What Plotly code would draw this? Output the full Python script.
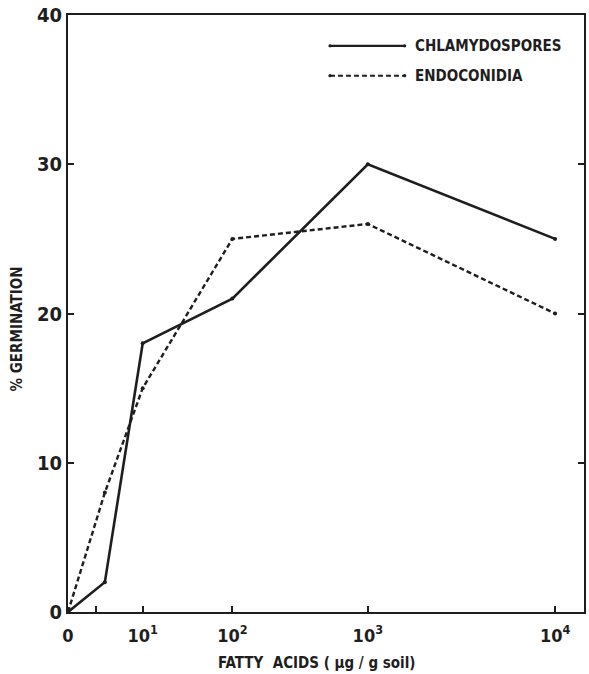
import plotly.graph_objects as go

# x positions on the (irregular) printed axis, in axis units
tick_pos = [0, 75, 165, 301, 489]
tick_labels = ["0", "10<sup>1</sup>", "10<sup>2</sup>", "10<sup>3</sup>", "10<sup>4</sup>"]
minor_tick_pos = [28]

chl_x = [0, 37, 75, 165, 301, 489]
chl_y = [0, 2, 18, 21, 30, 25]

endo_x = [0, 37, 75, 165, 301, 489]
endo_y = [0, 8, 15, 25, 26, 20]

FONT = "DejaVu Sans Condensed"
INK = "#1e1e1e"

fig = go.Figure()
fig.add_trace(go.Scatter(x=chl_x, y=chl_y, mode="lines+markers",
                         line=dict(color=INK, width=2.6),
                         marker=dict(size=4, color=INK),
                         name="CHLAMYDOSPORES", showlegend=False))
fig.add_trace(go.Scatter(x=endo_x, y=endo_y, mode="lines+markers",
                         line=dict(color=INK, width=2.4, dash="5px,3px"),
                         marker=dict(size=4, color=INK),
                         name="ENDOCONIDIA", showlegend=False))

def px2paper_x(px):
    return (px - 68) / 518.0

def px2paper_y(py):
    return (612 - py) / 600.0

legend_items = [("CHLAMYDOSPORES", "solid", 43), ("ENDOCONIDIA", "5px,3px", 73)]
for label, dash, py in legend_items:
    fig.add_shape(type="line", xref="paper", yref="paper",
                  x0=px2paper_x(331), x1=px2paper_x(406),
                  y0=px2paper_y(py), y1=px2paper_y(py),
                  line=dict(color=INK, width=2.2 if dash == "solid" else 2.0,
                            dash=dash))
    for ex in (331, 406):
        fig.add_shape(type="circle", xref="paper", yref="paper",
                      x0=px2paper_x(ex - 1.6), x1=px2paper_x(ex + 1.6),
                      y0=px2paper_y(py + 1.6), y1=px2paper_y(py - 1.6),
                      fillcolor=INK, line=dict(width=0))
    fig.add_annotation(text=label, xref="paper", yref="paper",
                       x=px2paper_x(414), y=px2paper_y(py),
                       xanchor="left", yanchor="middle", showarrow=False,
                       font=dict(family=FONT, size=15, color=INK, weight="bold"))

fig.add_annotation(text="FATTY&nbsp;&nbsp;ACIDS ( µg / g soil)", xref="paper", yref="paper",
                   x=px2paper_x(318), y=0, yshift=-51, xanchor="center",
                   yanchor="middle", showarrow=False,
                   font=dict(family=FONT, size=15, color=INK, weight="bold"))
fig.add_annotation(text="% GERMINATION", xref="paper", yref="paper",
                   x=0, xshift=-51, y=px2paper_y(328), textangle=-90,
                   xanchor="center", yanchor="middle", showarrow=False,
                   font=dict(family=FONT, size=15, color=INK, weight="bold"))

fig.update_layout(
    width=589, height=674,
    margin=dict(l=68, r=3, t=12, b=62),
    paper_bgcolor="white", plot_bgcolor="white",
    font=dict(family=FONT, size=18, color=INK, weight="bold"),
    xaxis=dict(range=[0, 518], tickvals=tick_pos + minor_tick_pos,
               ticktext=tick_labels + [" "],
               ticks="inside", ticklen=6, tickwidth=1.5, tickcolor=INK,
               ticklabelstandoff=6,
               showline=True, linecolor=INK, linewidth=2, mirror=True,
               showgrid=False, zeroline=False,
               tickfont=dict(family=FONT, size=18, color=INK, weight="bold")),
    yaxis=dict(range=[0, 40.001], tickvals=[0, 10, 20, 30, 40],
               ticks="inside", ticklen=6, tickwidth=1.5, tickcolor=INK,
               showline=True, linecolor=INK, linewidth=2, mirror="ticks",
               showgrid=False, zeroline=False,
               tickfont=dict(family=FONT, size=20, color=INK, weight="bold")),
)

fig.write_html("out.html")
